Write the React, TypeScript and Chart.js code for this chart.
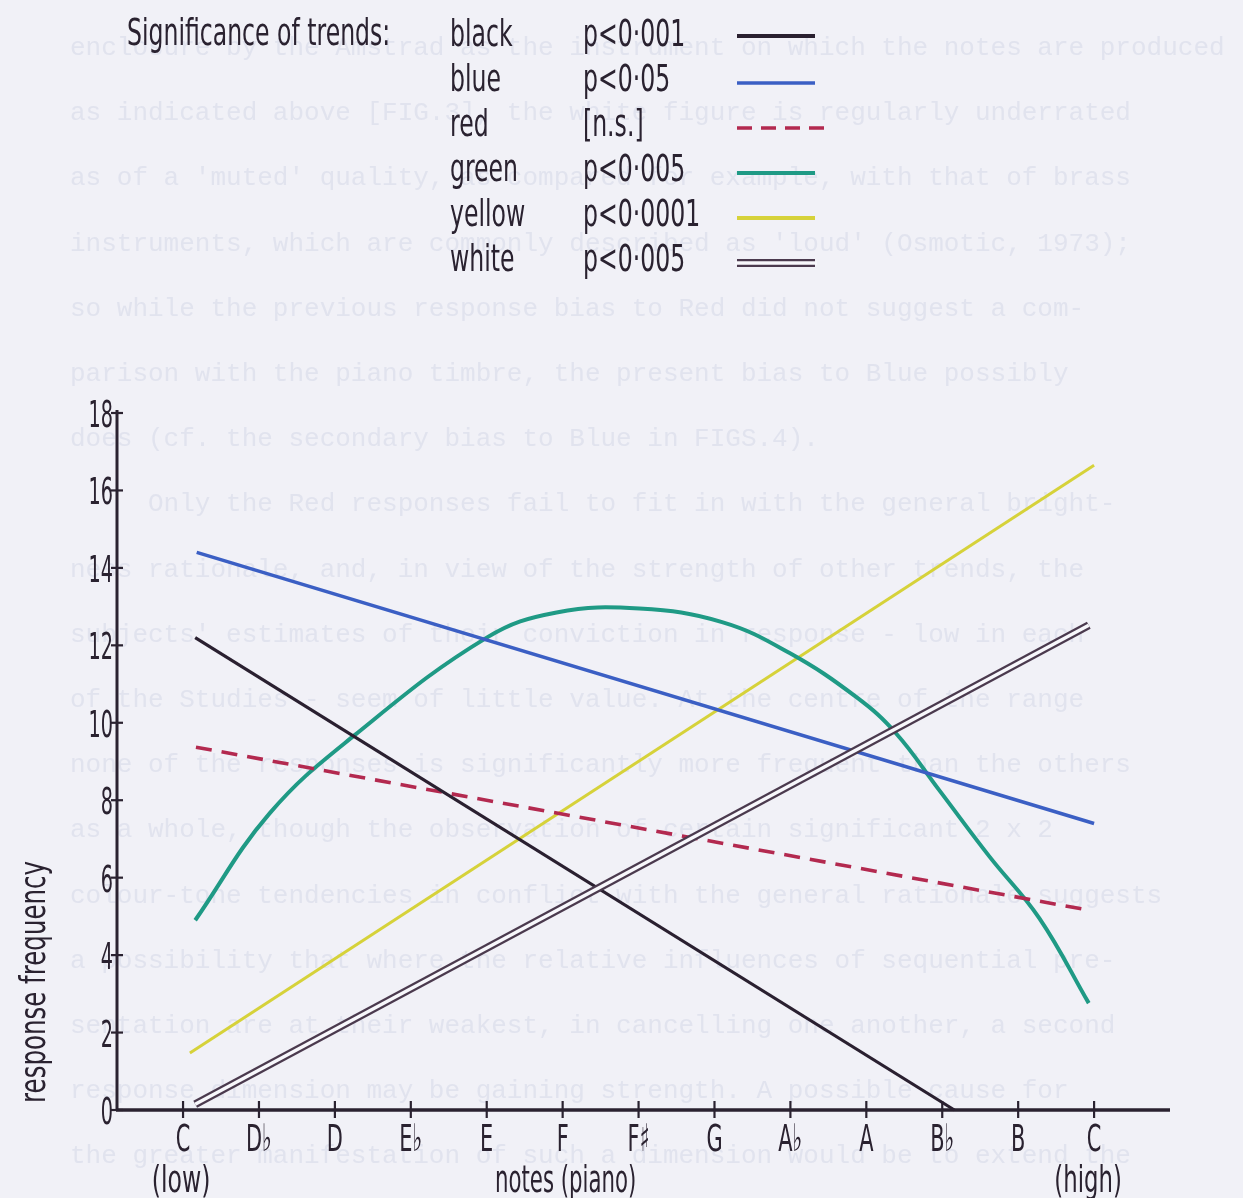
import React, { useEffect, useRef } from "react";
import { Chart, registerables } from "chart.js";

Chart.register(...registerables);

// ---------- data ----------
const NOTES = ["C", "D♭", "D", "E♭", "E", "F", "F♯", "G", "A♭", "A", "B♭", "B", "C"];
const Y_TICKS = [0, 2, 4, 6, 8, 10, 12, 14, 16, 18];

const BLACK_X = [0.16, 10.16];
const BLACK_Y = [12.2, 0];
const BLUE_X = [0.18, 12.0];
const BLUE_Y = [14.4, 7.4];
const RED_X = [0.17, 11.93];
const RED_Y = [9.37, 5.16];
const GREEN_X = [0.16, 1.14, 2.26, 4.0, 4.92, 6.01, 7.1, 7.99, 8.87, 9.39, 9.96, 10.62, 11.28, 11.93];
const GREEN_Y = [4.9, 7.66, 9.68, 12.2, 12.85, 12.95, 12.6, 11.8, 10.66, 9.73, 8.26, 6.55, 4.95, 2.76];
const YELLOW_X = [0.09, 12.0];
const YELLOW_Y = [1.47, 16.65];
const WHITE_X = [0.16, 11.93];
const WHITE_Y = [0.15, 12.52];

const LEGEND_TITLE = "Significance of trends:";
const LEGEND_NAMES = ["black", "blue", "red", "green", "yellow", "white"];
const LEGEND_SIG = ["p<0·001", "p<0·05", "[n.s.]", "p<0·005", "p<0·0001", "p<0·005"];
const X_TITLE = "notes (piano)";
const LOW_LABEL = "(low)";
const HIGH_LABEL = "(high)";
const Y_TITLE = "response frequency";

const PAGE_TEXT = [
  "enclosure by the Amstrad as the instrument on which the notes are produced",
  "as indicated above [FIG.3], the white figure is regularly underrated",
  "as of a 'muted' quality, as compared for example, with that of brass",
  "instruments, which are commonly described as 'loud' (Osmotic, 1973);",
  "so while the previous response bias to Red did not suggest a com-",
  "parison with the piano timbre, the present bias to Blue possibly",
  "does (cf. the secondary bias to Blue in FIGS.4).",
  "     Only the Red responses fail to fit in with the general bright-",
  "ness rationale, and, in view of the strength of other trends, the",
  "subjects' estimates of their conviction in response - low in each",
  "of the Studies - seem of little value. At the centre of the range",
  "none of the responses is significantly more frequent than the others",
  "as a whole, though the observation of certain significant 2 x 2",
  "colour-tone tendencies in conflict with the general rationale suggests",
  "a possibility that where the relative influences of sequential pre-",
  "sentation are at their weakest, in cancelling one another, a second",
  "response dimension may be gaining strength. A possible cause for",
  "the greater manifestation of such a dimension would be to extend the",
];

// ---------- style ----------
const BG = "#f1f1f7";
const INK = "#2a2230";
const C_BLACK = "#2a2030";
const C_BLUE = "#3b5fc4";
const C_RED = "#b3294f";
const C_GREEN = "#1f9a85";
const C_YELLOW = "#d6d23a";
const C_WHITE_EDGE = "#4b3a4e";
const C_WHITE_FILL = "#f8f8fc";
const FONT = "'DejaVu Sans'";

const pts = (xs: number[], ys: number[]) => xs.map((x, i) => ({ x, y: ys[i] }));

function condText(
  ctx: CanvasRenderingContext2D,
  text: string,
  x: number,
  y: number,
  size: number,
  sx: number,
  align: "left" | "right" | "center",
  color = INK,
  family = FONT
) {
  ctx.save();
  ctx.font = `${size}px ${family}`;
  ctx.fillStyle = color;
  ctx.textBaseline = "alphabetic";
  ctx.textAlign = "left";
  const w = ctx.measureText(text).width * sx;
  const x0 = align === "left" ? x : align === "right" ? x - w : x - w / 2;
  ctx.translate(x0, y);
  ctx.scale(sx, 1);
  ctx.fillText(text, 0, 0);
  ctx.restore();
}

const paperPlugin = {
  id: "paper",
  beforeDraw(chart: any) {
    const ctx = chart.ctx as CanvasRenderingContext2D;
    ctx.save();
    ctx.fillStyle = BG;
    ctx.fillRect(0, 0, chart.width, chart.height);
    ctx.font = "26px 'Liberation Mono'";
    ctx.fillStyle = "#e1e3ee";
    ctx.textBaseline = "alphabetic";
    PAGE_TEXT.forEach((line, i) => {
      ctx.fillText(line, 70, 55 + i * 65.2);
    });
    ctx.restore();
  },
};

const axesPlugin = {
  id: "handAxes",
  beforeDatasetsDraw(chart: any) {
    const ctx = chart.ctx as CanvasRenderingContext2D;
    const xs = chart.scales.x;
    const ys = chart.scales.y;
    const area = chart.chartArea;
    const ax = area.left;
    const ay = ys.getPixelForValue(0);
    ctx.save();
    ctx.strokeStyle = INK;
    ctx.lineCap = "butt";
    // y axis
    ctx.lineWidth = 3;
    ctx.beginPath();
    ctx.moveTo(ax, ay + 1);
    ctx.lineTo(ax, ys.getPixelForValue(18) - 3);
    ctx.stroke();
    // x axis
    ctx.lineWidth = 3.5;
    ctx.beginPath();
    ctx.moveTo(ax - 1, ay);
    ctx.lineTo(area.right, ay);
    ctx.stroke();
    // y ticks + labels
    ctx.lineWidth = 2.2;
    Y_TICKS.forEach((v) => {
      const py = ys.getPixelForValue(v);
      ctx.beginPath();
      ctx.moveTo(ax - 6, py);
      ctx.lineTo(ax + 6, py);
      ctx.stroke();
      condText(ctx, String(v), ax - 4, py + 14, 37, 0.52, "right");
    });
    // x ticks + labels
    NOTES.forEach((n, i) => {
      const px = xs.getPixelForValue(i);
      ctx.beginPath();
      ctx.moveTo(px, ay - 9);
      ctx.lineTo(px, ay + 8);
      ctx.stroke();
      condText(ctx, n, px, ay + 41, 38, 0.55, "center");
    });
    condText(ctx, LOW_LABEL, xs.getPixelForValue(0) - 2, ay + 82, 38, 0.62, "center");
    condText(ctx, HIGH_LABEL, xs.getPixelForValue(12) - 6, ay + 82, 38, 0.6, "center");
    condText(ctx, X_TITLE, xs.getPixelForValue(5) + 3, ay + 82, 38, 0.56, "center");
    // y title
    ctx.save();
    ctx.translate(45, 982);
    ctx.rotate(-Math.PI / 2);
    condText(ctx, Y_TITLE, 0, 0, 35, 0.7, "center");
    ctx.restore();
    ctx.restore();
  },
};

const legendPlugin = {
  id: "handLegend",
  afterDraw(chart: any) {
    const ctx = chart.ctx as CanvasRenderingContext2D;
    const sx = 0.62;
    const size = 38;
    const rowY = [46, 91, 136, 181, 226, 271];
    condText(ctx, LEGEND_TITLE, 127, 45, size, sx, "left");
    const styles = [
      { c: C_BLACK, w: 4, dash: [] as number[] },
      { c: C_BLUE, w: 3.5, dash: [] as number[] },
      { c: C_RED, w: 3.5, dash: [15, 9] },
      { c: C_GREEN, w: 4, dash: [] as number[] },
      { c: C_YELLOW, w: 4, dash: [] as number[] },
      { c: C_WHITE_EDGE, w: 8, dash: [] as number[] },
    ];
    LEGEND_NAMES.forEach((name, i) => {
      const by = rowY[i];
      condText(ctx, name, 450, by, size, sx, "left");
      condText(ctx, LEGEND_SIG[i], 583, by, size, sx, "left");
      const s = styles[i];
      const ly = by - 10 + (i === 0 ? 0 : 2);
      ctx.save();
      ctx.strokeStyle = s.c;
      ctx.lineWidth = s.w;
      ctx.setLineDash(s.dash);
      ctx.beginPath();
      ctx.moveTo(737, ly);
      ctx.lineTo(i === 2 ? 826 : 815, ly);
      ctx.stroke();
      if (i === 5) {
        ctx.strokeStyle = C_WHITE_FILL;
        ctx.lineWidth = 3.5;
        ctx.beginPath();
        ctx.moveTo(735, ly);
        ctx.lineTo(817, ly);
        ctx.stroke();
      }
      ctx.restore();
    });
  },
};

export default function App() {
  const ref = useRef<HTMLCanvasElement | null>(null);

  useEffect(() => {
    if (!ref.current) return;
    const base = { pointRadius: 0, fill: false, clip: false as any };
    const chart = new Chart(ref.current, {
      type: "line",
      data: {
        datasets: [
          { ...base, label: "white-inner", data: pts(WHITE_X, WHITE_Y), borderColor: C_WHITE_FILL, borderWidth: 3.4, order: 0 },
          { ...base, label: "white", data: pts(WHITE_X, WHITE_Y), borderColor: C_WHITE_EDGE, borderWidth: 8, order: 1 },
          { ...base, label: "black", data: pts(BLACK_X, BLACK_Y), borderColor: C_BLACK, borderWidth: 3.2, order: 2 },
          { ...base, label: "blue", data: pts(BLUE_X, BLUE_Y), borderColor: C_BLUE, borderWidth: 3.5, order: 3 },
          { ...base, label: "red", data: pts(RED_X, RED_Y), borderColor: C_RED, borderWidth: 3.6, borderDash: [16, 10], order: 4 },
          {
            ...base,
            label: "green",
            data: pts(GREEN_X, GREEN_Y),
            borderColor: C_GREEN,
            borderWidth: 4,
            tension: 0.4,
            order: 5,
          },
          { ...base, label: "yellow", data: pts(YELLOW_X, YELLOW_Y), borderColor: C_YELLOW, borderWidth: 3, order: 6 },
        ] as any,
      },
      options: {
        animation: false,
        responsive: false,
        maintainAspectRatio: false,
        devicePixelRatio: 1,
        layout: { padding: { left: 117, right: 73, top: 413, bottom: 88 } },
        plugins: { legend: { display: false }, tooltip: { enabled: false } },
        events: [],
        scales: {
          x: { type: "linear", min: -0.87, max: 13, display: false },
          y: { type: "linear", min: 0, max: 18, display: false },
        },
      },
      plugins: [paperPlugin, axesPlugin, legendPlugin],
    });
    return () => chart.destroy();
  }, []);

  return (
    <div style={{ position: "fixed", left: 0, top: 0, width: 1243, height: 1198, background: BG }}>
      <canvas ref={ref} width={1243} height={1198} style={{ display: "block" }} />
    </div>
  );
}
